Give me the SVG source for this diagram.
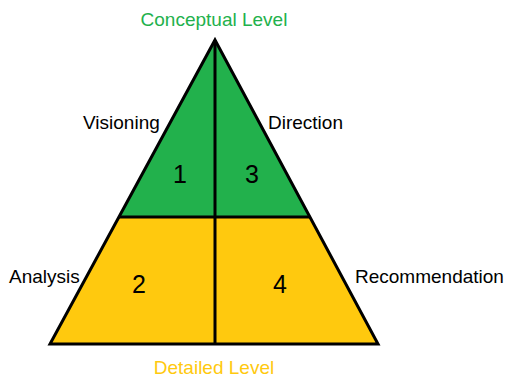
<svg xmlns="http://www.w3.org/2000/svg" width="506" height="377" viewBox="0 0 506 377">
<style>
.lbl{font-family:"Liberation Sans",Arial,sans-serif;font-size:19px;fill:#000}
.num{font-family:"Liberation Sans",Arial,sans-serif;font-size:25px;fill:#000;text-anchor:middle}
.green{fill:#22B14C}
.yellow{fill:#FFC90E}
.edge{stroke:#000;stroke-width:3;fill:none;stroke-linejoin:miter}
</style>
<rect width="506" height="377" fill="#fff"/>
<g id="region1">
<polygon class="green" points="215,40 119,217 215,217"/>
<text class="num" x="180" y="183">1</text>
</g>
<g id="region3">
<polygon class="green" points="215,40 310,217 215,217"/>
<text class="num" x="252" y="183">3</text>
</g>
<g id="region2">
<polygon class="yellow" points="119,217 50,344 215,344 215,217"/>
<text class="num" x="139" y="293">2</text>
</g>
<g id="region4">
<polygon class="yellow" points="215,217 215,344 378,344 310,217"/>
<text class="num" x="280" y="293">4</text>
</g>
<g id="connectors">
<polygon class="edge" points="215,40 378,344 50,344"/>
<line class="edge" x1="119" y1="217" x2="310" y2="217"/>
<line class="edge" x1="215" y1="40" x2="215" y2="344"/>
</g>
<g id="labels">
<text class="lbl" x="214" y="26" text-anchor="middle" style="fill:#22B14C">Conceptual Level</text>
<text class="lbl" x="214" y="374" text-anchor="middle" style="fill:#FFC90E">Detailed Level</text>
<text class="lbl" x="83" y="129">Visioning</text>
<text class="lbl" x="268" y="129">Direction</text>
<text class="lbl" x="9" y="283">Analysis</text>
<text class="lbl" x="355" y="283">Recommendation</text>
</g>
</svg>
